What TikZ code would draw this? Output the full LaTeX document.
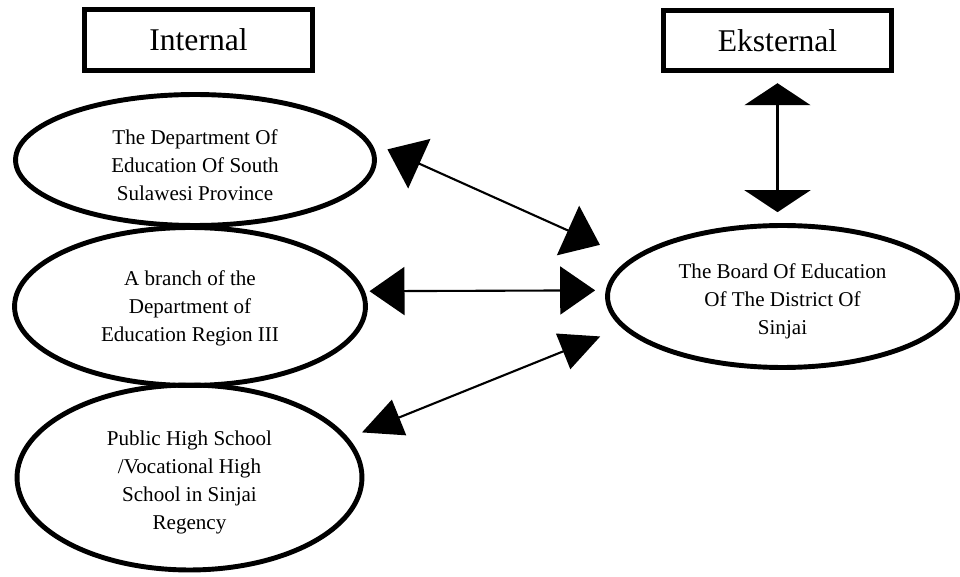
\documentclass[tikz,border=0pt]{standalone}
\usepackage{fontspec}
\setmainfont{Liberation Serif}
\usepackage{tikz}
\usetikzlibrary{
  positioning,
  shapes,
  arrows.meta
}

\begin{document}
\begin{tikzpicture}[x=0.02cm,y=-0.02cm,
    headbox/.style={draw,line width=2.8pt,minimum width=4.56cm,minimum height=1.21cm,inner sep=0pt,font=\fontsize{18}{20}\selectfont},
    oval/.style={draw,ellipse,line width=2.8pt,inner sep=0pt,align=center,font=\fontsize{12}{16}\selectfont},
    link/.style={line width=1.2pt}]
    \useasboundingbox (0,0) rectangle (960,577);
    \node[headbox] (int) at (198.5,40) {Internal};
    \node[headbox] (eks) at (777.5,40.5) {Eksternal};
    \node[oval,minimum width=7.18cm,minimum height=2.62cm] (dinas) at (195,160) {\rule{0pt}{14pt}The Department Of\\Education Of South\\Sulawesi Province};
    \node[oval,minimum width=7.02cm,minimum height=3.16cm] (cabang) at (190,306.5) {\rule{0pt}{11pt}A branch of the\\Department of\\Education Region III};
    \node[oval,minimum width=6.9cm,minimum height=3.7cm] (sekolah) at (189.5,477.5) {\rule{0pt}{14pt}Public High School\\/Vocational High\\School in Sinjai\\Regency};
    \node[oval,minimum width=7cm,minimum height=2.84cm] (board) at (782.5,296.5) {\rule{0pt}{14pt}The Board Of Education\\Of The District Of\\Sinjai};
    % arrows
    \draw[link,{Triangle[length=0.7cm,width=1.08cm]}-{Triangle[length=0.7cm,width=1.08cm]},shorten <=10.8pt,shorten >=19.1pt] (dinas.6) -- (board.166);
    \draw[link,{Triangle[length=0.7cm,width=0.96cm]}-{Triangle[length=0.7cm,width=0.96cm]},shorten <=2.7pt,shorten >=6pt] (cabang.5) -- (board.178);
    \draw[link,{Triangle[length=0.8cm,width=0.76cm]}-{Triangle[length=0.8cm,width=0.76cm]},shorten <=8.3pt,shorten >=13.3pt] (sekolah.14) -- (board.191);
    \draw[link,{Triangle[length=0.44cm,width=1.32cm]}-{Triangle[length=0.44cm,width=1.32cm]},shorten <=5.7pt,shorten >=6.2pt] (eks.south) -- (eks.south |- board.north);
\end{tikzpicture}
\end{document}
